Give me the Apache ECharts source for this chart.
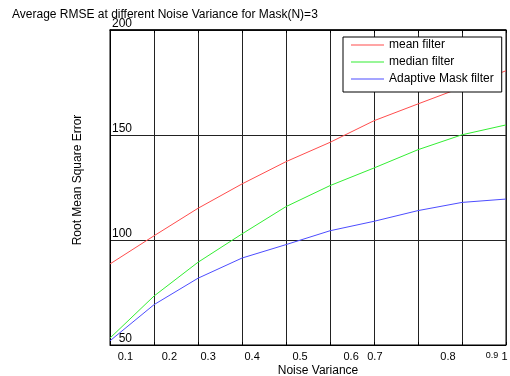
<!DOCTYPE html>
<html>
<head>
<meta charset="utf-8">
<script src="https://cdn.jsdelivr.net/npm/echarts@6/dist/echarts.min.js"></script>
<style>
  html, body { margin: 0; padding: 0; background: #fff; }
  #chart { width: 510px; height: 376px; }
</style>
</head>
<body>
<div id="chart"></div>
<script>
// x positions of the measured points (grid columns)
const xIdx = [1, 2, 3, 4, 5, 6, 7, 8, 9, 10];

// RMSE values
const meanFilter     = [88.6, 102.0, 115.1, 126.7, 137.3, 146.5, 156.8, 164.8, 172.7, 180.6];
const medianFilter   = [53.3, 73.3, 89.4, 102.9, 115.9, 125.9, 134.3, 143.0, 150.1, 154.8];
const adaptiveFilter = [52.0, 69.2, 81.8, 91.4, 97.8, 104.4, 108.9, 114.0, 117.9, 119.5];

// noise variance labels, placed where the original put them (in x units)
const xTickLabels = ['0.1', '0.2', '0.3', '0.4', '0.5', '0.6', '0.7', '0.8', '0.9', '1'];
const xTickPos    = [1.35, 2.35, 3.23, 4.23, 5.32, 6.48, 7.02, 8.68, 9.68, 9.97];

const yTicks = { min: 50, max: 200, step: 50 };

const FONT = 'Liberation Sans, Arial, sans-serif';

const pts = arr => arr.map((v, i) => [xIdx[i], v]);

const chart = echarts.init(document.getElementById('chart'), null, { renderer: 'canvas' });

chart.setOption({
  backgroundColor: '#fff',
  animation: false,
  textStyle: { fontFamily: FONT, color: '#000' },
  title: {
    text: 'Average RMSE at different Noise Variance for Mask(N)=3',
    left: 12, top: 9, padding: 0,
    textStyle: { fontFamily: FONT, fontSize: 12, fontWeight: 'normal', color: '#000' },
  },
  legend: {
    orient: 'vertical',
    left: 343, top: 37,
    padding: [1, 8, 6, 8],
    itemGap: 3,
    itemWidth: 33, itemHeight: 1,
    icon: 'rect',
    backgroundColor: '#fff',
    borderColor: '#000', borderWidth: 1,
    textStyle: { fontFamily: FONT, fontSize: 12, color: '#000', lineHeight: 14 },
    data: ['mean filter', 'median filter', 'Adaptive Mask filter'],
  },
  grid: {
    left: 110, right: 4, top: 30, bottom: 31,
    outerBoundsMode: 'none', containLabel: false,
    show: true, borderColor: '#000', borderWidth: 1, backgroundColor: '#fff',
  },
  xAxis: [
    {
      type: 'value', min: 1, max: 10, interval: 1,
      name: 'Noise Variance', nameLocation: 'middle', nameGap: 20,
      nameTextStyle: { fontFamily: FONT, fontSize: 12, color: '#000', padding: [0, 0, 0, 20] },
      axisLine: { show: true, lineStyle: { color: '#000' } },
      axisTick: { show: true, inside: true, length: 3, lineStyle: { color: '#000' } },
      axisLabel: { show: false },
      splitLine: { show: true, lineStyle: { color: '#222', width: 1 } },
    },
    {
      type: 'value', min: 1, max: 10, position: 'bottom',
      axisLine: { show: false }, axisTick: { show: false }, splitLine: { show: false },
      axisLabel: {
        customValues: xTickPos,
        margin: 6,
        fontFamily: FONT, fontSize: 11, color: '#000',
        formatter: v => {
          const i = xTickPos.indexOf(v);
          const t = i >= 0 ? xTickLabels[i] : '';
          return t === '0.9' ? '{s|' + t + '}' : t;
        },
        rich: { s: { fontFamily: FONT, fontSize: 9, color: '#000' } },
      },
    },
    {
      type: 'value', min: 1, max: 10, interval: 1, position: 'top',
      axisLine: { show: true, lineStyle: { color: '#000', width: 1.5 } },
      axisTick: { show: true, inside: true, length: 3, lineStyle: { color: '#000' } },
      axisLabel: { show: false }, splitLine: { show: false },
    },
  ],
  yAxis: {
    type: 'value', min: yTicks.min, max: yTicks.max, interval: yTicks.step,
    name: 'Root Mean Square Error', nameLocation: 'middle', nameGap: 26,
    nameTextStyle: { fontFamily: FONT, fontSize: 12, color: '#000', padding: [0, 0, 0, 15] },
    axisLine: { show: true, lineStyle: { color: '#000' } },
    axisTick: { show: false },
    axisLabel: {
      inside: true, margin: 22, align: 'right', verticalAlign: 'bottom',
      fontFamily: FONT, fontSize: 12, color: '#000',
    },
    splitLine: { show: true, lineStyle: { color: '#222', width: 1 } },
  },
  series: [
    { name: 'mean filter', type: 'line', data: pts(meanFilter), showSymbol: false, lineStyle: { color: '#ff4d4d', width: 1 }, itemStyle: { color: '#ff4d4d' } },
    { name: 'median filter', type: 'line', data: pts(medianFilter), showSymbol: false, lineStyle: { color: '#33ee33', width: 1 }, itemStyle: { color: '#33ee33' } },
    { name: 'Adaptive Mask filter', type: 'line', data: pts(adaptiveFilter), showSymbol: false, lineStyle: { color: '#4d4dff', width: 1 }, itemStyle: { color: '#4d4dff' } },
  ],
});
</script>
</body>
</html>
